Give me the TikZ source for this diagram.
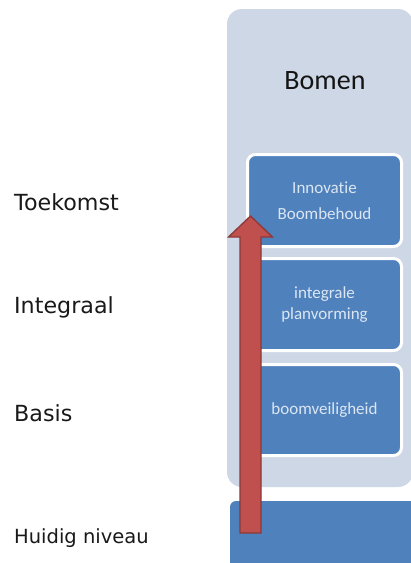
\documentclass[tikz,border=0pt]{standalone}
\usepackage{fontspec}
\setmainfont{DejaVu Sans}
\newfontfamily\carlito[Ligatures=NoCommon]{Carlito}
\usetikzlibrary{calc}
\definecolor{bgcol}{HTML}{CED7E6}
\definecolor{boxcol}{HTML}{4F81BD}
\definecolor{boxtext}{HTML}{DCE6F2}
\definecolor{arrowfill}{HTML}{C0504D}
\definecolor{arrowline}{HTML}{8C3836}
\tikzset{
  levelbox/.style={draw=white, line width=3pt, fill=boxcol, rounded corners=8pt,
    minimum width=154pt, minimum height=92pt, inner sep=0pt, align=center,
    text=boxtext, font=\carlito\fontsize{17}{21}\selectfont},
  levellabel/.style={anchor=west, inner sep=0pt, text=black!90,
    font=\fontsize{22.2}{26}\selectfont},
}
\begin{document}
\begin{tikzpicture}[x=1pt,y=-1pt]
\useasboundingbox (0,0) rectangle (411,563);
\clip (0,0) rectangle (411,563);
\fill[white] (0,0) rectangle (411,563);
% background column
\node[fill=bgcol, rounded corners=15pt, minimum width=186pt, minimum height=478pt,
  inner sep=0pt] (bg) at (320,248) {};
\node[inner sep=0pt, font=\carlito\fontsize{28}{32}\selectfont, text=black!92] (bomen) at (325,81) {Bomen};
% level boxes
\node[levelbox] (innov) at (324.5,200.5) {Innovatie\\[5pt]Boombehoud};
\node[levelbox] (integ) at (324.5,304.5) {integrale\\planvorming};
\node[levelbox, minimum height=91pt] (basisbox) at (324.5,410) {boomveiligheid};
% current level box
\fill[boxcol, rounded corners=6pt] (230,501) rectangle (440,600);
\node[inner sep=0pt] (current) at (320,540) {};
% left labels
\node[levellabel] (toek) at (14,202) {Toekomst};
\node[levellabel] (integraal) at (14,307) {Integraal};
\node[levellabel] (basis) at (14,413) {Basis};
\node[levellabel, font=\fontsize{19.5}{24}\selectfont] (huidig) at (14,538) {Huidig niveau};
% arrow
\coordinate (abase) at (250.5,533);
\coordinate (atip) at (250.5,216);
\filldraw[fill=arrowfill, draw=arrowline, line width=1.3pt, line join=miter]
  ($(abase)+(-10.5,0)$) -- ($(atip)+(-10.5,21)$) -- ($(atip)+(-22,21)$) -- (atip)
  -- ($(atip)+(22,21)$) -- ($(atip)+(10.5,21)$) -- ($(abase)+(10.5,0)$) -- cycle;
\end{tikzpicture}
\end{document}
